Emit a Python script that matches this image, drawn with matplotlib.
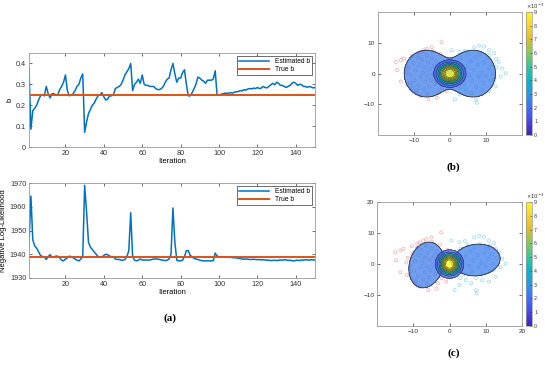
import numpy as np
import matplotlib
matplotlib.use("Agg")
from matplotlib import pyplot as plt
from matplotlib.colors import LinearSegmentedColormap, Normalize
from matplotlib.cm import ScalarMappable

plt.rcParams['font.family'] = ['Liberation Sans', 'DejaVu Sans']

# ---------------- data: (a) parameter estimation -----------------
iterations = np.arange(1, 151)
true_b = 0.25
true_nll = 1939.0

est_b = [
    0.375, 0.085, 0.175, 0.185, 0.20, 0.225, 0.245, 0.25, 0.245, 0.29,
    0.255, 0.235, 0.255, 0.255, 0.25, 0.25, 0.275, 0.29, 0.31, 0.345,
    0.27, 0.245, 0.25, 0.255, 0.27, 0.29, 0.30, 0.33, 0.35, 0.07,
    0.12, 0.16, 0.18, 0.20, 0.21, 0.23, 0.245, 0.25, 0.26, 0.24,
    0.225, 0.23, 0.245, 0.245, 0.25, 0.28, 0.285, 0.29, 0.30, 0.32,
    0.345, 0.36, 0.375, 0.40, 0.27, 0.30, 0.31, 0.325, 0.305, 0.345,
    0.30, 0.295, 0.295, 0.29, 0.29, 0.29, 0.28, 0.275, 0.275, 0.28,
    0.29, 0.31, 0.325, 0.33, 0.37, 0.40, 0.35, 0.31, 0.33, 0.33,
    0.355, 0.37, 0.30, 0.245, 0.245, 0.26, 0.28, 0.30, 0.335, 0.33,
    0.32, 0.315, 0.305, 0.32, 0.32, 0.32, 0.325, 0.365, 0.25, 0.25,
    0.252, 0.255, 0.258, 0.257, 0.258, 0.26, 0.258, 0.262, 0.265, 0.265,
    0.27, 0.268, 0.275, 0.272, 0.278, 0.28, 0.278, 0.282, 0.28, 0.285,
    0.28, 0.282, 0.29, 0.285, 0.283, 0.29, 0.298, 0.305, 0.298, 0.31,
    0.305, 0.295, 0.295, 0.29, 0.285, 0.29, 0.295, 0.305, 0.31, 0.305,
    0.295, 0.30, 0.298, 0.29, 0.29, 0.285, 0.29, 0.287, 0.283, 0.285,
]

nll = [
    1943.5, 1964.5, 1946, 1943.5, 1942.5, 1941, 1939.5, 1939, 1939, 1937.8,
    1939, 1939.8, 1938.8, 1938.8, 1939.2, 1939.2, 1938.5, 1937.5, 1937.2, 1938,
    1938.5, 1939.2, 1939, 1938.5, 1938, 1937.5, 1937.2, 1938, 1939, 1969,
    1958, 1945, 1943, 1942, 1941, 1940, 1939, 1939, 1938.8, 1939.5,
    1940, 1939.8, 1939.2, 1939, 1939, 1938, 1937.8, 1937.8, 1937.5, 1937.5,
    1937.8, 1939, 1941.5, 1957.5, 1939, 1937.5, 1937.2, 1937.5, 1938, 1937.6,
    1937.5, 1937.6, 1937.5, 1937.6, 1937.8, 1938, 1938, 1938, 1937.8, 1937.6,
    1937.5, 1937.3, 1937.5, 1938, 1940, 1959.5, 1945, 1937.5, 1937.2, 1937.2,
    1937.5, 1939, 1941.5, 1941.5, 1939.5, 1939, 1938.2, 1938, 1937.8, 1937.5,
    1937.3, 1937.2, 1937.2, 1937.3, 1937.2, 1937.2, 1937.3, 1940.5, 1939.2, 1939,
    1938.9, 1938.9, 1938.8, 1938.8, 1938.7, 1938.7, 1938.6, 1938.5, 1938.5, 1938.3,
    1938.2, 1938, 1937.9, 1938, 1937.9, 1937.8, 1937.8, 1937.9, 1937.8, 1937.7,
    1937.8, 1937.6, 1937.7, 1937.6, 1937.5, 1937.5, 1937.3, 1937.4, 1937.5, 1937.3,
    1937.5, 1937.6, 1937.5, 1937.7, 1937.6, 1937.4, 1937.5, 1937.3, 1937.2, 1937.4,
    1937.5, 1937.3, 1937.6, 1937.5, 1937.7, 1937.6, 1937.5, 1937.7, 1937.6, 1937.6,
]

# ---------------- data: (b)/(c) samples -----------------
red_x = [-2.3, -5.0, -6.4, -7.3, -8.2, -15.0, -13.6, -12.7, -14.7, -13.6, -11.8, -10.5,
         -9.5, -8.2, -5.9, -3.6, -0.9, -11.5, -10.8, -10.2, -9.8, -9.5, -9.0, -8.7, -8.4,
         -8.0, -7.8, -7.5, -7.2, -7.0, -6.8, -6.5, -6.2, -6.0, -5.7, -5.5, -5.2, -5.0,
         -4.7, -4.4, -4.0, -3.7, -3.4, -3.0, -2.6, -2.2, -1.8, -1.5, -11.0, -12.0, -9.3,
         -8.9, -6.3, -4.8, -10.4, -3.2, -0.5]
red_y = [10.2, 8.6, 8.1, 7.6, 7.0, 3.8, 4.4, 4.9, 1.2, -2.6, -3.6, -4.7,
         -6.3, -7.3, -8.4, -7.9, -5.7, 2.0, -0.5, 3.5, -2.2, 1.0, 5.2, -3.8, 2.8,
         -1.2, 4.6, 0.3, -5.0, 2.1, -2.6, 6.0, -0.8, 3.6, -4.2, 1.4, -2.0, 5.0,
         -0.3, 2.6, -3.3, 4.0, 0.8, -1.6, 6.3, -4.6, 2.2, -2.8, -3.0, 0.5, -5.5,
         6.6, -6.5, 7.2, 5.8, -6.2, 4.5]
blue_x = [0.5, 2.7, 6.8, 8.2, 9.5, 10.9, 12.3, 13.6, 14.5, 15.5, 14.1, 12.7, 10.9, 7.3,
          7.5, 1.4, 2.7, 4.5, 1.5, 2.2, 3.0, 3.5, 4.0, 4.6, 5.0, 5.4, 5.8, 6.2, 6.6, 7.0,
          7.3, 7.7, 8.0, 8.4, 8.8, 9.2, 9.6, 10.0, 10.4, 10.8, 11.2, 11.6, 12.0, 12.4,
          4.2, 6.0, 9.0, 11.0, 13.0, 3.0, 0.8, 1.0, 12.8]
blue_y = [7.6, 7.0, 8.6, 9.1, 8.8, 7.6, 6.7, 3.8, 1.7, 0.1, -1.0, -4.1, -5.7, -8.4,
          -9.5, -8.4, -6.8, -5.2, 3.0, -1.5, 5.0, 0.8, -3.2, 2.4, 6.2, -0.6, 4.0, -2.4,
          1.2, 5.4, -4.5, 2.8, -1.0, 6.4, 0.4, -3.0, 3.6, -0.8, 5.0, 1.6, -2.2, 3.0, 0.0,
          -1.8, 7.4, -6.2, -5.2, 6.0, 2.0, -4.5, -3.0, 1.5, 4.8]

# fitted mixture components (centre, spread, tilt, peak density)
b_lobe_mx = [-6.5, 6.5]
b_lobe_my = [0.0, 0.0]
b_lobe_sx = [3.9, 3.9]
b_lobe_sy = [4.8, 4.8]
b_lobe_ang = [0.0, 0.0]
b_lobe_peak = [3.5e-3, 3.5e-3]
b_core = dict(mx=0.0, my=0.0, sx=2.05, sy=2.05, ang=0.0, peak=11.0e-3)

c_lobe_mx = [-6.5, 7.5]
c_lobe_my = [-0.3, 1.3]
c_lobe_sx = [2.9, 4.1]
c_lobe_sy = [4.7, 3.2]
c_lobe_ang = [-10.0, 10.0]
c_lobe_peak = [3.5e-3, 3.5e-3]
c_core = dict(mx=0.0, my=0.0, sx=1.8, sy=2.1, ang=0.0, peak=11.0e-3)

core_levels = [1e-3, 2e-3, 3e-3, 4e-3, 5e-3, 6e-3, 7e-3, 8e-3, 9e-3, 1.2e-2]

parula = LinearSegmentedColormap.from_list("parula", [
    (0.2422, 0.1504, 0.6603), (0.2803, 0.2782, 0.9221), (0.2440, 0.4358, 0.9988),
    (0.1540, 0.5902, 0.9218), (0.0297, 0.7082, 0.8163), (0.1938, 0.7758, 0.6251),
    (0.5044, 0.7993, 0.3480), (0.8634, 0.7406, 0.1596), (0.9892, 0.8136, 0.1885),
    (0.9769, 0.9839, 0.0805)])

blue = (0.0, 0.447, 0.741)
orange = (0.85, 0.325, 0.098)
spine_col = '#9a9a9a'
fs = 5.2


def gauss(X, Y, mx, my, sx, sy, ang, peak):
    t = np.deg2rad(ang)
    dx, dy = X - mx, Y - my
    u = dx * np.cos(t) + dy * np.sin(t)
    v = -dx * np.sin(t) + dy * np.cos(t)
    return peak * np.exp(-0.5 * ((u / sx) ** 2 + (v / sy) ** 2))


def style(ax):
    ax.tick_params(direction='in', length=2, width=0.5, labelsize=fs,
                   top=True, right=True, pad=2, colors='#333333')
    for s in ax.spines.values():
        s.set_color(spine_col)
        s.set_linewidth(0.6)


fig = plt.figure(figsize=(5.5, 3.68), dpi=100)

# ---- (a) top ----
ax1 = fig.add_axes([0.0527, 0.6005, 0.52, 0.2554])
ax1.plot(iterations, est_b, color=blue, lw=1.1, label='Estimated b')
ax1.axhline(true_b, color=orange, lw=1.4, label='True b')
ax1.set_xlim(1, 150)
ax1.set_ylim(0, 0.45)
ax1.set_xticks([20, 40, 60, 80, 100, 120, 140])
ax1.set_yticks([0, 0.1, 0.2, 0.3, 0.4])
ax1.set_yticklabels(['0', '0.1', '0.2', '0.3', '0.4'])
ax1.set_xlabel('Iteration', fontsize=5.5, labelpad=1)
ax1.set_ylabel('b', fontsize=5.5, labelpad=2)
style(ax1)
leg = ax1.legend(loc='upper right', fontsize=4.8, handlelength=4.5, borderpad=0.3,
                 labelspacing=0.15, fancybox=False, framealpha=1)
leg.get_frame().set_edgecolor('#333333')
leg.get_frame().set_linewidth(0.5)

# ---- (a) bottom ----
ax2 = fig.add_axes([0.0527, 0.2446, 0.52, 0.258])
ax2.plot(iterations, nll, color=blue, lw=1.1, label='Estimated b')
ax2.axhline(true_nll, color=orange, lw=1.4, label='True b')
ax2.set_xlim(1, 150)
ax2.set_ylim(1930, 1970)
ax2.set_xticks([20, 40, 60, 80, 100, 120, 140])
ax2.set_yticks([1930, 1940, 1950, 1960, 1970])
ax2.set_xlabel('Iteration', fontsize=5.5, labelpad=1)
ax2.set_ylabel('Negative Log-Likelihood', fontsize=5.5, labelpad=2)
style(ax2)
leg = ax2.legend(loc='upper right', fontsize=4.8, handlelength=4.5, borderpad=0.3,
                 labelspacing=0.15, fancybox=False, framealpha=1)
leg.get_frame().set_edgecolor('#333333')
leg.get_frame().set_linewidth(0.5)

fig.text(0.309, 0.136, '(a)', fontsize=8, ha='center', va='center',
         family=['Liberation Serif', 'DejaVu Serif'], weight='bold')

# ---- (b), (c) density panels ----
gx = np.linspace(-20, 20, 400)
X, Y = np.meshgrid(gx, gx)


def density_panel(ax, cax, mxs, mys, sxs, sys_, angs, peaks, core, ticks):
    norm = Normalize(0, 9e-3)
    lobes = sum(gauss(X, Y, mx, my, sx, sy, a, p)
                for mx, my, sx, sy, a, p in zip(mxs, mys, sxs, sys_, angs, peaks))
    core_d = gauss(X, Y, **core)
    ax.scatter(red_x, red_y, s=5, facecolors='none', edgecolors=(0.9, 0.35, 0.35),
               linewidths=0.5, alpha=0.5, zorder=1)
    ax.scatter(blue_x, blue_y, s=5, facecolors='none', edgecolors=(0.25, 0.7, 0.85),
               linewidths=0.5, alpha=0.55, zorder=1)
    ax.contourf(X, Y, lobes, levels=[1e-3, 1.0], colors=[(0.22, 0.48, 0.92)],
                alpha=0.72, zorder=2)
    ax.contour(X, Y, lobes, levels=[1e-3], colors='#333333', linewidths=0.6, zorder=2)
    ax.contourf(X, Y, core_d, levels=core_levels, cmap=parula, norm=norm,
                alpha=0.75, zorder=3)
    ax.contour(X, Y, core_d, levels=core_levels[:-1], colors='#222222',
               linewidths=0.35, zorder=3)
    ax.set_xlim(-20, 20)
    ax.set_ylim(-20, 20)
    ax.set_xticks(ticks[0])
    ax.set_yticks(ticks[1])
    style(ax)
    ax.tick_params(labelsize=4.6)

    cb = fig.colorbar(ScalarMappable(norm=norm, cmap=parula), cax=cax)
    cb.set_ticks([i * 1e-3 for i in range(10)], labels=[str(i) for i in range(10)])
    cb.ax.tick_params(direction='in', length=1.5, width=0.4, labelsize=3.8, pad=1.5,
                      colors='#333333')
    cb.outline.set_edgecolor(spine_col)
    cb.outline.set_linewidth(0.5)
    cax.text(0.0, 1.01, r'$\times10^{-3}$', transform=cax.transAxes, fontsize=3.8,
             ha='left', va='bottom', color='#333333')


axb = fig.add_axes([0.687, 0.633, 0.2618, 0.334])
cbb = fig.add_axes([0.9564, 0.633, 0.011, 0.334])
density_panel(axb, cbb, b_lobe_mx, b_lobe_my, b_lobe_sx, b_lobe_sy, b_lobe_ang,
              b_lobe_peak, b_core, ([-10, 0, 10], [-10, 0, 10]))

axc = fig.add_axes([0.6855, 0.114, 0.2636, 0.337])
cbc = fig.add_axes([0.9564, 0.114, 0.011, 0.337])
density_panel(axc, cbc, c_lobe_mx, c_lobe_my, c_lobe_sx, c_lobe_sy, c_lobe_ang,
              c_lobe_peak, c_core, ([-10, 0, 10, 20], [-10, 0, 10, 20]))

fig.text(0.825, 0.546, '(b)', fontsize=8, ha='center', va='center',
         family=['Liberation Serif', 'DejaVu Serif'], weight='bold')
fig.text(0.825, 0.041, '(c)', fontsize=8, ha='center', va='center',
         family=['Liberation Serif', 'DejaVu Serif'], weight='bold')

fig.savefig('out.png', dpi=100)
